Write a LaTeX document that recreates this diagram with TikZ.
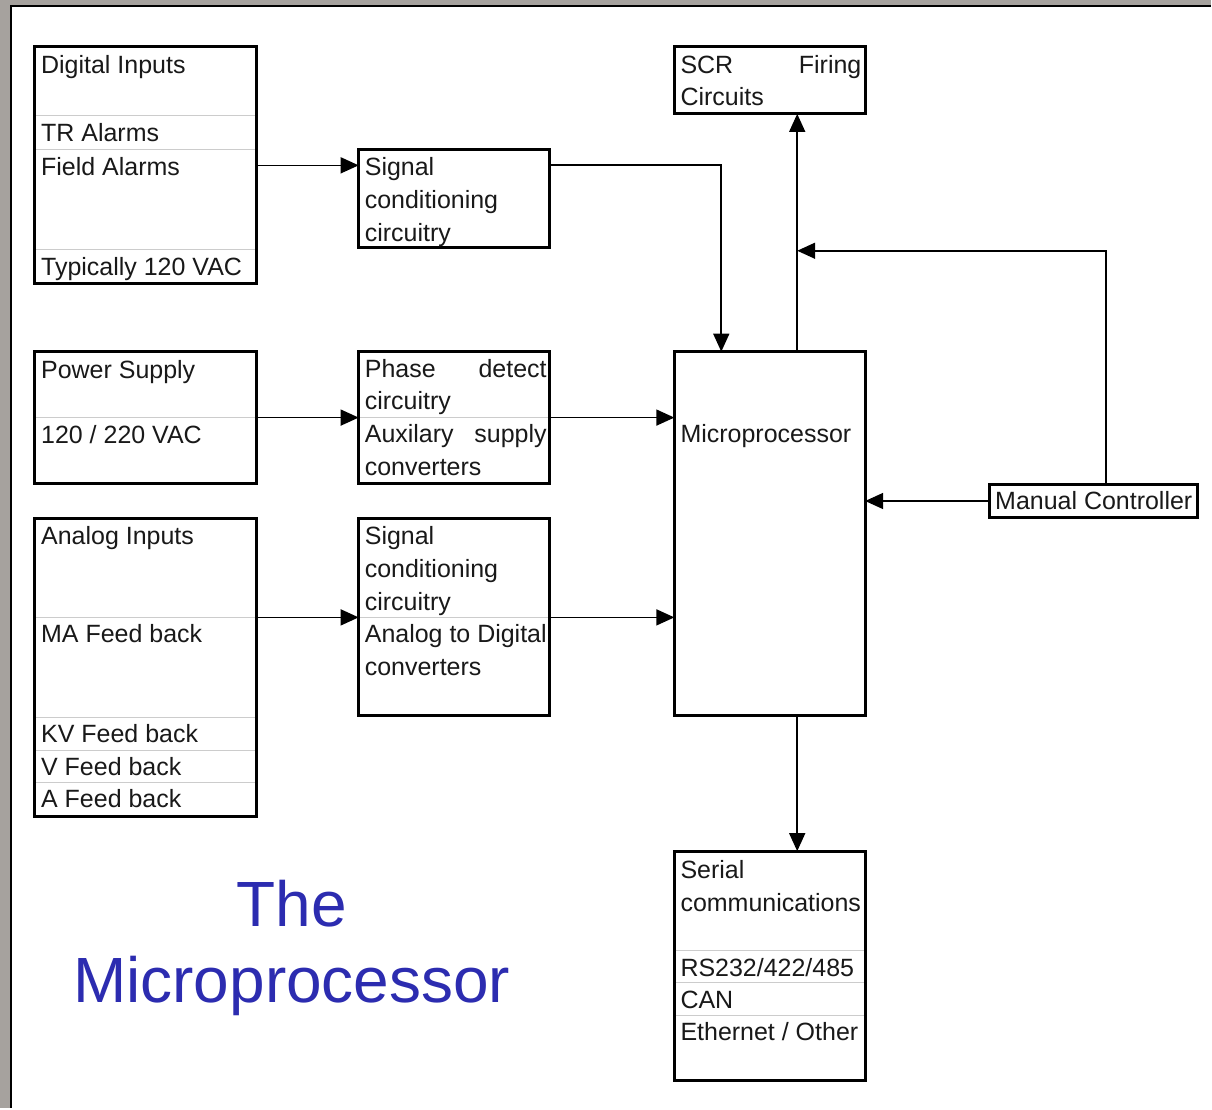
\documentclass[tikz,border=0pt]{standalone}
\usepackage{fontspec}
\setmainfont{Liberation Sans}
\usetikzlibrary{arrows.meta,positioning}
\definecolor{framegray}{RGB}{166,162,158}
\definecolor{titleblue}{RGB}{44,44,176}

\begin{document}
\begin{tikzpicture}[x=1pt, y=-1pt,
    blk/.style={draw, line width=3pt, inner sep=0pt, outer sep=0pt, anchor=north west},
    txt/.style={inner sep=0pt, anchor=base west, text=black!90, font=\fontsize{25}{30}\selectfont},
    sepline/.style={gray!40, line width=0.9pt, shorten <=1.5pt, shorten >=1.5pt},
    arr/.style={-{Triangle[length=18pt,width=16pt]}, line width=1.6pt},
    ttl/.style={inner sep=0pt, anchor=base, text=titleblue, font=\fontsize{64}{76}\selectfont}]

    % frame
    \fill[framegray] (0,0) rectangle (1212,1109);
    \fill[white] (11,6) rectangle (1212,1109);
    \draw[line width=2.4pt] (11,1109) -- (11,6) -- (1212,6);

    % digital inputs
    \node[blk, minimum width=222pt, minimum height=237pt] (din) at (35,47) {};
    \node[txt] (din1) at (41,74) {Digital Inputs};
    \node[txt] (din2) at (41,142) {TR Alarms};
    \node[txt] (din3) at (41,176) {Field Alarms};
    \node[txt] (din4) at (41,276) {Typically 120 VAC};
    \draw[sepline] (din.west |- 0,116) -- (din.east |- 0,116);
    \draw[sepline] (din.west |- 0,150) -- (din.east |- 0,150);
    \draw[sepline] (din.west |- 0,250) -- (din.east |- 0,250);

    % power supply
    \node[blk, minimum width=222pt, minimum height=132pt] (ps) at (35,352) {};
    \node[txt] (ps1) at (41,379) {Power Supply};
    \node[txt] (ps2) at (41,444) {120 / 220 VAC};
    \draw[sepline] (ps.west |- 0,418) -- (ps.east |- 0,418);

    % analog inputs
    \node[blk, minimum width=222pt, minimum height=298pt] (ain) at (35,519) {};
    \node[txt] (ain1) at (41,545) {Analog Inputs};
    \node[txt] (ain2) at (41,643) {MA Feed back};
    \node[txt] (ain3) at (41,743) {KV Feed back};
    \node[txt] (ain4) at (41,776) {V Feed back};
    \node[txt] (ain5) at (41,808) {A Feed back};
    \draw[sepline] (ain.west |- 0,618) -- (ain.east |- 0,618);
    \draw[sepline] (ain.west |- 0,718) -- (ain.east |- 0,718);
    \draw[sepline] (ain.west |- 0,751) -- (ain.east |- 0,751);
    \draw[sepline] (ain.west |- 0,783) -- (ain.east |- 0,783);

    % middle column
    \node[blk, minimum width=191pt, minimum height=98pt] (sc1) at (359,150) {};
    \node[txt] (sc1a) at (365,176) {Signal};
    \node[txt] (sc1b) at (365,209) {conditioning};
    \node[txt] (sc1c) at (365,242) {circuitry};

    \node[blk, minimum width=191pt, minimum height=132pt] (pd) at (359,352) {};
    \node[txt] (pd1) at (365,378) {\makebox[182pt][s]{Phase\hfill detect}};
    \node[txt] (pd2) at (365,410) {circuitry};
    \node[txt] (pd3) at (365,443) {\makebox[182pt][s]{Auxilary\hfill supply}};
    \node[txt] (pd4) at (365,476) {converters};
    \draw[sepline] (pd.west |- 0,418) -- (pd.east |- 0,418);

    \node[blk, minimum width=191pt, minimum height=197pt] (sc2) at (359,519) {};
    \node[txt] (sc2a) at (365,545) {Signal};
    \node[txt] (sc2b) at (365,578) {conditioning};
    \node[txt] (sc2c) at (365,611) {circuitry};
    \node[txt] (sc2d) at (365,643) {Analog to Digital};
    \node[txt] (sc2e) at (365,676) {converters};
    \draw[sepline] (sc2.west |- 0,618) -- (sc2.east |- 0,618);

    % right column
    \node[blk, minimum width=191pt, minimum height=67pt] (scr) at (675,47) {};
    \node[txt] (scr1) at (681,74) {\makebox[181pt][s]{SCR\hfill Firing}};
    \node[txt] (scr2) at (681,106) {Circuits};

    \node[blk, minimum width=191pt, minimum height=364pt] (mp) at (675,352) {};
    \node[txt] (mp1) at (681,443) {Microprocessor};

    \node[blk, minimum width=209pt, minimum height=33pt] (man) at (990,485) {};
    \node[txt] (man1) at (996,510) {Manual Controller};

    \node[blk, minimum width=191pt, minimum height=230pt] (ser) at (675,852) {};
    \node[txt] (ser1) at (681,879) {Serial};
    \node[txt] (ser2) at (681,912) {communications};
    \node[txt] (ser3) at (681,977) {RS232/422/485};
    \node[txt] (ser4) at (681,1009) {CAN};
    \node[txt] (ser5) at (681,1042) {Ethernet / Other};
    \draw[sepline] (ser.west |- 0,951) -- (ser.east |- 0,951);
    \draw[sepline] (ser.west |- 0,983) -- (ser.east |- 0,983);
    \draw[sepline] (ser.west |- 0,1016) -- (ser.east |- 0,1016);

    % title
    \node[ttl] (ttl1) at (292,927) {The};
    \node[ttl] (ttl2) at (292,1003) {Microprocessor};

    % connectors
    \coordinate (c1) at (722,165);
    \coordinate (c2) at (300,618);
    \coordinate (jn) at (798,251);
    \coordinate (c3) at (1107,251);
    \draw[arr] (din.east) -- (din.east -| sc1.west);
    \draw[arr] (sc1.east |- c1) -| (mp.north -| c1);
    \draw[arr] (ps) -- (pd);
    \draw[arr] (pd) -- (pd -| mp.west);
    \draw[arr] (ain.east |- c2) -- (sc2.west |- c2);
    \draw[arr] (sc2.east |- c2) -- (mp.west |- c2);
    \draw[arr] (mp.north -| jn) -- (scr.south -| jn);
    \draw[arr] (man.north -| c3) -- (c3) -- (jn);
    \draw[arr] (man) -- (man -| mp.east);
    \draw[arr] (mp.south -| jn) -- (ser.north -| jn);
\end{tikzpicture}
\end{document}
